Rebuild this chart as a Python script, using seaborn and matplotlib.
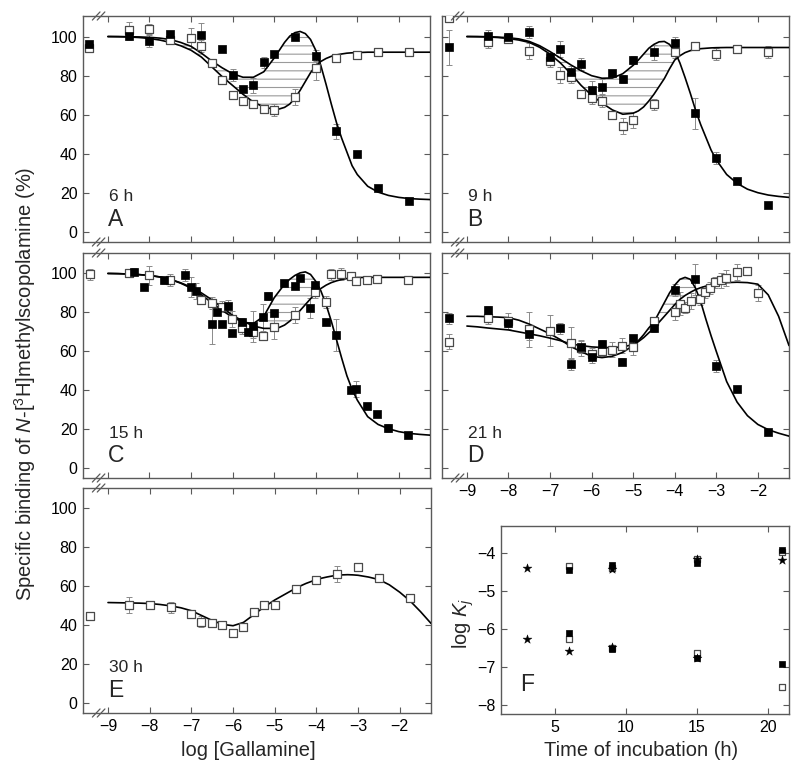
import numpy as np
import matplotlib
matplotlib.use("Agg")
import matplotlib.pyplot as plt
import seaborn as sns

# ---------------- data ----------------
# x positions at which the fitted curves were read off the picture
curve_x = [-9.0, -8.75, -8.5, -8.25, -8.0, -7.75, -7.5, -7.25, -7.0, -6.75, -6.5, -6.25,
           -6.0, -5.75, -5.5, -5.25,
           -5.0, -4.875, -4.75, -4.625, -4.5, -4.375, -4.25, -4.125, -4.0, -3.875, -3.75,
           -3.625, -3.5, -3.375, -3.25, -3.125, -3.0,
           -2.75, -2.5, -2.25, -2.0, -1.75, -1.5, -1.25]

# Panel A (6 h)
a_fill_x = [-9.45, -8.5, -8.0, -7.5, -6.75, -6.25, -6.0, -5.75, -5.5, -5.25, -5.0, -4.5, -4.0, -3.5, -3.0, -2.5, -1.75]
a_fill_y = [96.3, 100.3, 97.6, 101.5, 101, 93.6, 80.3, 73.2, 75, 86.8, 91, 100, 90.3, 51.5, 40.2, 22.5, 15.8]
a_fill_e = [0, 2, 3, 0, 6, 0, 3, 0, 4, 3, 0, 0, 3, 4, 0, 0, 0]
a_open_x = [-9.45, -8.5, -8.0, -7.5, -7.0, -6.75, -6.5, -6.25, -6.0, -5.75, -5.5, -5.25, -5.0, -4.5, -4.0, -3.5, -3.0, -2.5, -1.75]
a_open_y = [94, 103.4, 103.7, 98, 99.2, 95, 86.4, 77.6, 70.3, 67, 65.3, 63.2, 62.4, 69.2, 84, 89, 90.7, 92, 91.9]
a_open_e = [2, 4, 2.5, 0, 5, 3, 2, 2, 2, 1, 2, 2, 3, 4, 6, 1, 1.5, 1, 1.5]
a_fill_curve = [100, 100, 99.9, 99.8, 99.6, 99.2, 98.5, 97, 95, 91.5, 87.5, 84, 81, 79.2, 79.2, 82,
                89, 93, 97, 100.2, 102, 102.6, 101.5, 98.5, 93, 85, 75.5, 65.5, 56, 48, 41, 34, 29.5,
                23.5, 20.5, 18.8, 17.8, 17.2, 16.9, 16.7]
a_open_curve = [100, 99.9, 99.8, 99.5, 99, 98.2, 97, 95.3, 93, 89.5, 84.5, 79.5, 75, 70.5, 66.5, 64,
                62.8, 63, 63.8, 65.5, 68.5, 72.5, 77, 81.5, 85, 87.3, 88.8, 89.9, 90.6, 91.1, 91.5, 91.7, 91.8,
                92, 92, 92, 92, 92, 92, 92]

# Panel B (9 h)
b_fill_x = [-9.42, -8.5, -8.0, -7.5, -7.0, -6.75, -6.5, -6.25, -6.0, -5.75, -5.5, -5.25, -5.0, -4.5, -4.0, -3.5, -3.0, -2.5, -1.75]
b_fill_y = [94.6, 100.5, 99.7, 102.2, 89.8, 93.6, 81.9, 85.9, 72.5, 74.4, 81.2, 78.5, 88.1, 91.9, 96.6, 60.7, 37.8, 26.3, 14.1]
b_fill_e = [9, 3, 2, 3, 2, 4, 3, 3, 5, 4, 0, 2, 2, 4, 3, 8, 3, 0, 0]
b_open_x = [-9.42, -8.5, -8.0, -7.5, -7.0, -6.75, -6.5, -6.25, -6.0, -5.75, -5.5, -5.25, -5.0, -4.5, -4.0, -3.5, -3.0, -2.5, -1.75]
b_open_y = [109.5, 97, 98.6, 92.7, 87.3, 80.2, 79.3, 70.7, 68.6, 66.9, 59.7, 54.2, 57.3, 65.3, 91.9, 95.3, 91.0, 93.7, 92]
b_open_e = [0, 3, 2, 4, 3, 4, 3, 2, 3, 3, 2, 4, 4, 3, 3, 2, 3, 2, 3]
b_fill_curve = [100, 100, 99.9, 99.7, 99.4, 98.8, 97.5, 95.3, 92.3, 89, 85.5, 82.5, 80, 78.7, 78.8, 81,
                85.3, 88, 91, 94, 96, 97.3, 97.5, 96, 92.5, 86.5, 79, 71, 62.5, 55, 48.5, 42, 37,
                29.5, 25, 22, 20.2, 19, 18.3, 17.8]
b_open_curve = [100, 99.9, 99.8, 99.5, 99, 98.2, 97, 94.5, 91, 86.5, 81, 75, 70, 66, 62.5, 60.3,
                60.8, 62, 64, 67, 70.5, 74.5, 78.5, 83.5, 88, 90.2, 91.8, 92.8, 93.4, 93.8, 94, 94.2, 94.3,
                94.4, 94.4, 94.4, 94.4, 94.4, 94.4, 94.4]

# Panel C (15 h)
c_fill_x = [-8.38, -8.14, -7.64, -7.14, -7.01, -6.88, -6.5, -6.38, -6.26, -6.12, -6.02, -5.77, -5.64, -5.51, -5.26,
            -5.14, -5.0, -4.76, -4.51, -4.38, -4.14, -4.01, -3.76, -3.52, -3.14, -3.02, -2.76, -2.52, -2.26, -1.78]
c_fill_y = [101, 93, 96.4, 99.1, 93, 91, 73.8, 80.3, 73.8, 83.3, 69.6, 75.3, 69.7, 72.8, 77.4,
            88.6, 79.8, 95.1, 93.5, 97.8, 82.3, 93.9, 75, 68.4, 40.3, 40.8, 31.8, 27.9, 20.7, 17.3]
c_fill_e = [2, 0, 2, 3, 5, 4, 10, 0, 0, 3, 0, 2, 0, 8, 7, 2, 0, 0, 0, 0, 5, 0, 0, 8, 0, 4, 0, 0, 2, 0]
c_open_x = [-9.44, -8.5, -8.02, -7.5, -6.76, -6.5, -6.26, -6.02, -5.77, -5.51, -5.26, -5.0, -4.51, -4.01, -3.76,
            -3.64, -3.39, -3.14, -3.02, -2.76, -2.52, -1.78]
c_open_y = [99.5, 100, 99, 96.8, 86.4, 84.7, 83, 76.5, 72, 69.7, 68, 72.6, 78.7, 90.6, 85.4,
            99.5, 99.8, 98.5, 96.1, 96.6, 97, 96.4]
c_open_e = [3, 2, 5, 3, 2, 3, 3, 4, 3, 3, 2, 6, 4, 3, 3, 3, 3, 2, 2, 2, 2, 2]
c_fill_curve = [100, 99.9, 99.7, 99.4, 99, 98.2, 97, 95, 92.5, 89, 85, 81, 77.5, 75, 74.3, 78,
                87.5, 91, 94.5, 97, 99, 100.3, 100.8, 99.5, 96, 91, 84, 75.5, 66, 56.5, 47.5, 40.5, 35,
                26.5, 22.5, 20.3, 18.8, 17.9, 17.4, 17]
c_open_curve = [100, 99.9, 99.7, 99.4, 99, 98.2, 97, 95.2, 93, 90, 86.5, 82.5, 78.5, 75.5, 73, 71.8,
                71.8, 72.3, 73.5, 75.5, 78, 81, 84, 87, 90, 92.3, 94, 95.3, 96.2, 96.9, 97.4, 97.7, 97.9,
                98, 98, 98, 98, 98, 98, 98]

# Panel D (21 h)
d_fill_x = [-9.42, -8.5, -8.0, -7.5, -6.75, -6.5, -6.25, -6.0, -5.75, -5.26, -5.0, -4.5, -4.0, -3.5, -3.0, -2.5, -1.76]
d_fill_y = [76.9, 81.3, 74.5, 68.9, 71.8, 53.6, 62.1, 57, 63.8, 54.8, 67, 71.9, 91.5, 96.9, 52.6, 40.6, 18.7]
d_fill_e = [3, 2, 2, 3, 3, 3, 3, 3, 2, 2, 0, 2, 3, 8, 3, 0, 0]
d_open_x = [-9.42, -8.5, -8.0, -7.5, -7.0, -6.5, -6.25, -6.0, -5.75, -5.5, -5.26, -5.0, -4.5, -4.0, -3.88, -3.75,
            -3.62, -3.38, -3.26, -3.14, -3.02, -2.89, -2.76, -2.5, -2.26, -2.0]
d_open_y = [65, 77, 75.7, 71.4, 70.6, 64.3, 61.6, 58.7, 60.4, 60.9, 63, 62.1, 75.7, 80.3, 84.5, 82.5,
            85.9, 86.7, 90.6, 92.7, 95.4, 96.4, 97.6, 100.7, 101.5, 90.1]
d_open_e = [4, 3, 4, 9, 8, 8, 4, 3, 3, 4, 4, 4, 2, 4, 6, 3, 4, 3, 3, 3, 3, 4, 4, 4, 1, 4]
d_fill_curve = [78, 78, 77.8, 77.6, 77.3, 76, 74, 71.5, 69, 66, 62.5, 59.8, 57.5, 56.8, 57.5, 59.5,
                63, 65.5, 68.5, 72, 75, 80, 85, 90, 94, 97, 98, 97, 92.5, 85.5, 76.5, 68, 60,
                44.5, 34, 27, 22.5, 19.8, 18, 16.5]
d_open_curve = [73, 72.6, 72, 71.5, 71, 70, 69, 68, 66.8, 65.5, 63.8, 63, 62.3, 62, 61.9, 62.3,
                63.5, 65, 67, 69.5, 72, 75, 78, 81, 84, 86.7, 88.7, 90.3, 91.7, 92.7, 93.5, 94.2, 94.8,
                95.3, 95.5, 95.3, 94.5, 89, 78, 63]

# Panel E (30 h)
e_open_x = [-9.44, -8.5, -8.0, -7.5, -7.02, -6.77, -6.5, -6.26, -6.0, -5.76, -5.5, -5.26, -5.0, -4.5, -4.0, -3.5, -3.0, -2.5, -1.76]
e_open_y = [44.6, 50.3, 50.3, 49.2, 45.8, 41.9, 41.2, 40.2, 36.1, 39, 46.9, 50.5, 50.5, 58.8, 63.2, 66.4, 70.2, 64.1, 54.2]
e_open_e = [1.5, 4, 2, 3, 2, 3, 1, 2, 1, 1, 1.5, 1.5, 1, 1.5, 1.5, 4, 1.5, 1.5, 1.5]
e_curve = [51.7, 51.6, 51.5, 51.4, 51.2, 50.7, 50, 49, 47.5, 45, 42.5, 40.5, 39.8, 41.5, 45.5, 49.5,
           53, 54.5, 56, 57.5, 59, 60.3, 61.5, 62.5, 63.5, 64.2, 64.8, 65.3, 65.7, 65.9, 66, 65.9, 65.7,
           64.8, 63.5, 60.8, 57, 52.5, 47, 41]

# Panel F (log Kj vs time)
f_star_t = [3, 3, 6, 9, 9, 15, 15, 21]
f_star_k = [-4.38, -6.28, -6.59, -4.42, -6.47, -4.14, -6.76, -4.19]
f_fill_t = [6, 6, 9, 9, 15, 15, 21, 21]
f_fill_k = [-4.45, -6.12, -4.31, -6.52, -4.27, -6.76, -3.91, -6.93]
f_open_t = [6, 6, 9, 9, 15, 15, 21, 21]
f_open_k = [-4.35, -6.27, -4.4, -6.5, -4.16, -6.65, -3.96, -7.53]

gal_ticks = [-9, -8, -7, -6, -5, -4, -3, -2]
pct_ticks = [0, 20, 40, 60, 80, 100]
time_ticks = [5, 10, 15, 20]
logk_ticks = [-8, -7, -6, -5, -4]

# ---------------- style ----------------
sns.set_theme(style="ticks")
plt.rcParams['font.family'] = ['Liberation Sans', 'DejaVu Sans']
plt.rcParams['mathtext.fontset'] = 'custom'
plt.rcParams['mathtext.rm'] = 'Liberation Sans'
plt.rcParams['mathtext.it'] = 'Liberation Sans:italic'
plt.rcParams['hatch.linewidth'] = 0.8

FRAME = '#5a5a5a'
ERRC = '#8a8a8a'
OPENC = '#4a4a4a'

fig = plt.figure(figsize=(8.0, 7.71), dpi=100)
W, H = 800.0, 771.0


def rect(l, t, r, b):
    return [l / W, 1 - b / H, (r - l) / W, (b - t) / H]


def style_axes(ax, xt, yt, xlabels, ylabels):
    for s in ax.spines.values():
        s.set_color(FRAME)
        s.set_linewidth(1.0)
        s.set_visible(True)
    ax.tick_params(direction='in', top=True, right=True, length=4, width=0.8,
                   color=FRAME, labelsize=11.5, labelcolor='black', pad=4)
    ax.set_xticks(xt)
    ax.set_yticks(yt)
    if not xlabels:
        ax.set_xticklabels([])
    if not ylabels:
        ax.set_yticklabels([])
    ax.set_xlabel('')
    ax.set_ylabel('')


def break_marks(ax):
    for yy in (0.0, 1.0):
        for xx in (0.038, 0.052):
            ax.plot([xx - 0.011, xx + 0.011], [yy - 0.018, yy + 0.018], transform=ax.transAxes,
                    color=FRAME, lw=0.9, clip_on=False, zorder=5)


def draw_series(ax, x, y, e, filled):
    ax.errorbar(x, y, yerr=e, fmt='none', ecolor=ERRC, elinewidth=0.7, capsize=2.2,
                capthick=0.7, zorder=2)
    if filled:
        sns.scatterplot(x=x, y=y, marker='s', s=26, color='black', edgecolor='black',
                        linewidth=0.5, ax=ax, zorder=4, legend=False)
    else:
        sns.scatterplot(x=x, y=y, marker='s', s=26, facecolor='white', edgecolor=OPENC,
                        linewidth=0.9, ax=ax, zorder=3, legend=False)


def draw_curve(ax, yc):
    sns.lineplot(x=curve_x, y=yc, color='black', lw=1.2, ax=ax, estimator=None,
                 sort=False, zorder=3, legend=False)


def hatch_between(ax, yf, yo, lo, hi):
    xs = np.array(curve_x)
    f = np.array(yf)
    o = np.array(yo)
    mask = (f > o) & (xs >= lo) & (xs <= hi)
    ax.fill_between(xs, o, f, where=mask, interpolate=True, facecolor='none',
                    edgecolor='#9a9a9a', hatch='--', linewidth=0, zorder=1)


panels = [
    dict(r=rect(83, 16, 430, 242), fx=a_fill_x, fy=a_fill_y, fe=a_fill_e, ox=a_open_x, oy=a_open_y,
         oe=a_open_e, fc=a_fill_curve, oc=a_open_curve, hz=(-7.5, -3.0), t='6 h', L='A',
         xl=False, yl=True),
    dict(r=rect(442, 16, 789, 242), fx=b_fill_x, fy=b_fill_y, fe=b_fill_e, ox=b_open_x, oy=b_open_y,
         oe=b_open_e, fc=b_fill_curve, oc=b_open_curve, hz=(-7.5, -3.0), t='9 h', L='B',
         xl=False, yl=False),
    dict(r=rect(83, 253, 430, 478), fx=c_fill_x, fy=c_fill_y, fe=c_fill_e, ox=c_open_x, oy=c_open_y,
         oe=c_open_e, fc=c_fill_curve, oc=c_open_curve, hz=(-5.6, -3.0), t='15 h', L='C',
         xl=False, yl=True),
    dict(r=rect(442, 253, 789, 478), fx=d_fill_x, fy=d_fill_y, fe=d_fill_e, ox=d_open_x, oy=d_open_y,
         oe=d_open_e, fc=d_fill_curve, oc=d_open_curve, hz=(-5.25, -3.0), t='21 h', L='D',
         xl=True, yl=False),
]

for p in panels:
    ax = fig.add_axes(p['r'])
    hatch_between(ax, p['fc'], p['oc'], *p['hz'])
    draw_curve(ax, p['fc'])
    draw_curve(ax, p['oc'])
    draw_series(ax, p['ox'], p['oy'], p['oe'], False)
    draw_series(ax, p['fx'], p['fy'], p['fe'], True)
    ax.set_xlim(-9.6, -1.25)
    ax.set_ylim(-5, 110.5)
    style_axes(ax, gal_ticks, pct_ticks, p['xl'], p['yl'])
    break_marks(ax)
    ax.text(0.075, 0.18, p['t'], transform=ax.transAxes, fontsize=12.5, ha='left', va='baseline')
    ax.text(0.072, 0.07, p['L'], transform=ax.transAxes, fontsize=16.5, ha='left', va='baseline')

# Panel E
axE = fig.add_axes(rect(83, 488, 431, 713))
draw_curve(axE, e_curve)
draw_series(axE, e_open_x, e_open_y, e_open_e, False)
axE.set_xlim(-9.6, -1.25)
axE.set_ylim(-5, 110.5)
style_axes(axE, gal_ticks, pct_ticks, True, True)
break_marks(axE)
axE.text(0.075, 0.18, '30 h', transform=axE.transAxes, fontsize=12.5, ha='left', va='baseline')
axE.text(0.072, 0.07, 'E', transform=axE.transAxes, fontsize=16.5, ha='left', va='baseline')

# Panel F
axF = fig.add_axes(rect(501, 526, 789, 714))
sns.scatterplot(x=f_star_t, y=f_star_k, marker='*', s=45, color='black', edgecolor='black',
                linewidth=0.3, ax=axF, zorder=5, legend=False)
sns.scatterplot(x=f_fill_t, y=f_fill_k, marker='s', s=24, color='black', edgecolor='black',
                linewidth=0.5, ax=axF, zorder=4, legend=False)
sns.scatterplot(x=f_open_t, y=f_open_k, marker='s', s=24, facecolor='white', edgecolor=OPENC,
                linewidth=0.9, ax=axF, zorder=3, legend=False)
axF.set_xlim(1.2, 21.5)
axF.set_ylim(-8.25, -3.28)
style_axes(axF, time_ticks, logk_ticks, True, True)
axF.text(0.066, 0.12, 'F', transform=axF.transAxes, fontsize=16.5, ha='left', va='baseline')

# figure-level labels
fig.text(0.031, 0.502, r'Specific binding of $\mathit{N}$-[$^{3}$H]methylscopolamine (%)',
         rotation=90, ha='center', va='center', fontsize=14.5)
fig.text(248 / W, 1 - 750 / H, 'log [Gallamine]', ha='center', va='center', fontsize=14.5)
fig.text(641 / W, 1 - 750 / H, 'Time of incubation (h)', ha='center', va='center', fontsize=14.5)
fig.text(463 / W, 1 - 623 / H, r'log $\mathit{K}_{j}$', rotation=90, ha='center', va='center',
         fontsize=14.5)

fig.savefig('out.png', dpi=100)
